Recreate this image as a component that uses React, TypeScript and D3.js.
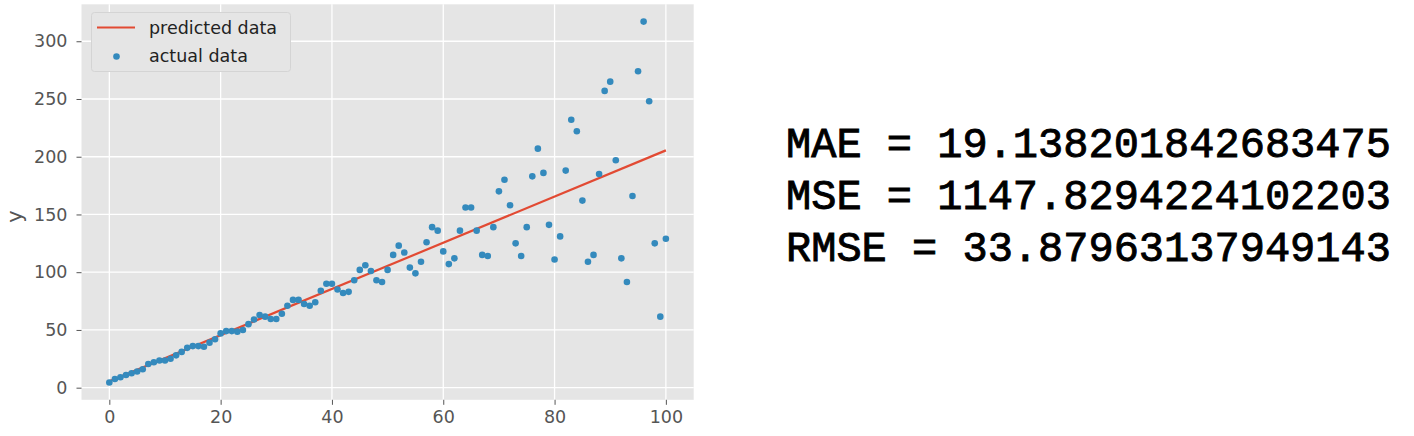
import React, { useEffect, useRef } from 'react';
import * as d3 from 'd3';

// actual data, one value per x = 0..100
const actualY = [
  4.5, 7.5, 9, 11, 12.5, 14, 16, 20.5, 22, 23.5,
  23.5, 25, 28, 31, 34.5, 36, 36, 35.5, 39, 42,
  47, 49, 49, 48.5, 50, 55, 59, 63, 61.5, 59.5,
  59.5, 64, 71, 76, 76, 72.5, 71, 74, 84, 90,
  90, 85, 82, 83, 93, 102, 106, 101, 93, 91.5,
  102, 115, 123, 117, 104, 99, 109, 126, 139, 136,
  118, 107, 112, 136, 156, 156, 136, 115, 114, 139,
  170, 180, 158, 125, 114, 139, 183, 207, 186, 141,
  111, 131, 188, 232, 222, 162, 109, 115, 185, 257,
  265, 197, 112, 91.5, 166, 274, 317, 248, 125, 61.5,
  129,
];

// fitted line (straight, so its two ends are enough)
const predictedX = [0, 100];
const predictedY = [5.5, 205.5];

const xTicks = [0, 20, 40, 60, 80, 100];
const yTicks = [0, 50, 100, 150, 200, 250, 300];

const metricLabels = ['MAE', 'MSE', 'RMSE'];
const metricValues = ['19.138201842683475', '1147.8294224102203', '33.87963137949143'];

const legendItems = ['predicted data', 'actual data'];

const RED = '#E24A33';
const BLUE = '#348ABD';

const App: React.FC = () => {
  const ref = useRef<SVGSVGElement>(null);

  useEffect(() => {
    const width = 1414, height = 436;
    const svg = d3.select(ref.current)
      .attr('width', width)
      .attr('height', height);
    svg.selectAll('*').remove();

    const x = d3.scaleLinear().domain([-5, 105]).range([81.5, 693.7]);
    const y = d3.scaleLinear().domain([-10.5, 332]).range([399.8, 4.3]);

    // panel background
    svg.append('rect')
      .attr('x', x(-5)).attr('y', y(332))
      .attr('width', x(105) - x(-5)).attr('height', y(-10.5) - y(332))
      .attr('fill', '#E5E5E5');

    // grid
    const g = svg.append('g');
    xTicks.forEach(t => {
      g.append('line')
        .attr('x1', x(t)).attr('x2', x(t))
        .attr('y1', y(332)).attr('y2', y(-10.5))
        .attr('stroke', '#fff').attr('stroke-width', 1.3);
    });
    yTicks.forEach(t => {
      g.append('line')
        .attr('x1', x(-5)).attr('x2', x(105))
        .attr('y1', y(t)).attr('y2', y(t))
        .attr('stroke', '#fff').attr('stroke-width', 1.3);
    });

    // axes
    const xAxis = d3.axisBottom(x).tickValues(xTicks).tickSize(5).tickPadding(6).tickFormat(d3.format('d'));
    const yAxis = d3.axisLeft(y).tickValues(yTicks).tickSize(5).tickPadding(9).tickFormat(d3.format('d'));

    const gx = svg.append('g').attr('transform', `translate(0, ${y(-10.5)})`).call(xAxis);
    const gy = svg.append('g').attr('transform', `translate(${x(-5)}, 0)`).call(yAxis);
    [gx, gy].forEach(a => {
      a.select('.domain').remove();
      a.selectAll('line').attr('stroke', '#555').attr('stroke-width', 1);
      a.selectAll('text')
        .attr('fill', '#555')
        .style('font-family', 'DejaVu Sans')
        .style('font-size', '17.5px');
    });

    svg.append('text')
      .attr('transform', `translate(22, ${y(150) + 2}) rotate(-90)`)
      .attr('text-anchor', 'middle')
      .attr('fill', '#555')
      .style('font-family', 'DejaVu Sans')
      .style('font-size', '21px')
      .text('y');

    // predicted line
    const line = d3.line<number>()
      .x((_, i) => x(predictedX[i]))
      .y(d => y(d));
    svg.append('path')
      .datum(predictedY)
      .attr('d', line)
      .attr('fill', 'none')
      .attr('stroke', RED)
      .attr('stroke-width', 2.2);

    // actual points
    svg.append('g').selectAll('circle')
      .data(actualY)
      .join('circle')
      .attr('cx', (_, i) => x(i))
      .attr('cy', d => y(d))
      .attr('r', 3.3)
      .attr('fill', BLUE);

    // legend
    const legend = svg.append('g');
    legend.append('rect')
      .attr('x', 91.5).attr('y', 12.5)
      .attr('width', 199).attr('height', 59)
      .attr('rx', 3)
      .attr('fill', '#E5E5E5')
      .attr('stroke', '#d4d4d4')
      .attr('stroke-width', 1);
    legend.append('line')
      .attr('x1', 97).attr('x2', 135)
      .attr('y1', 27.5).attr('y2', 27.5)
      .attr('stroke', RED).attr('stroke-width', 2.2);
    legend.append('circle')
      .attr('cx', 116.5).attr('cy', 56.5).attr('r', 3.3)
      .attr('fill', BLUE);
    legendItems.forEach((label, i) => {
      legend.append('text')
        .attr('x', 149)
        .attr('y', 34 + i * 28)
        .attr('fill', '#222')
        .style('font-family', 'DejaVu Sans')
        .style('font-size', '17.5px')
        .text(label);
    });

    // metrics text
    metricLabels.forEach((m, i) => {
      svg.append('text')
        .attr('x', 786)
        .attr('y', 157 + i * 52)
        .attr('fill', '#000')
        .attr('stroke', '#000')
        .attr('stroke-width', 0.9)
        .style('font-family', '"Courier New", "Liberation Mono", monospace')
        .style('font-size', '42px')
        .style('white-space', 'pre')
        .text(`${m} = ${metricValues[i]}`);
    });
  }, []);

  return (
    <svg ref={ref} style={{ position: 'absolute', left: 0, top: 0, background: '#fff' }}></svg>
  );
};

export default App;
